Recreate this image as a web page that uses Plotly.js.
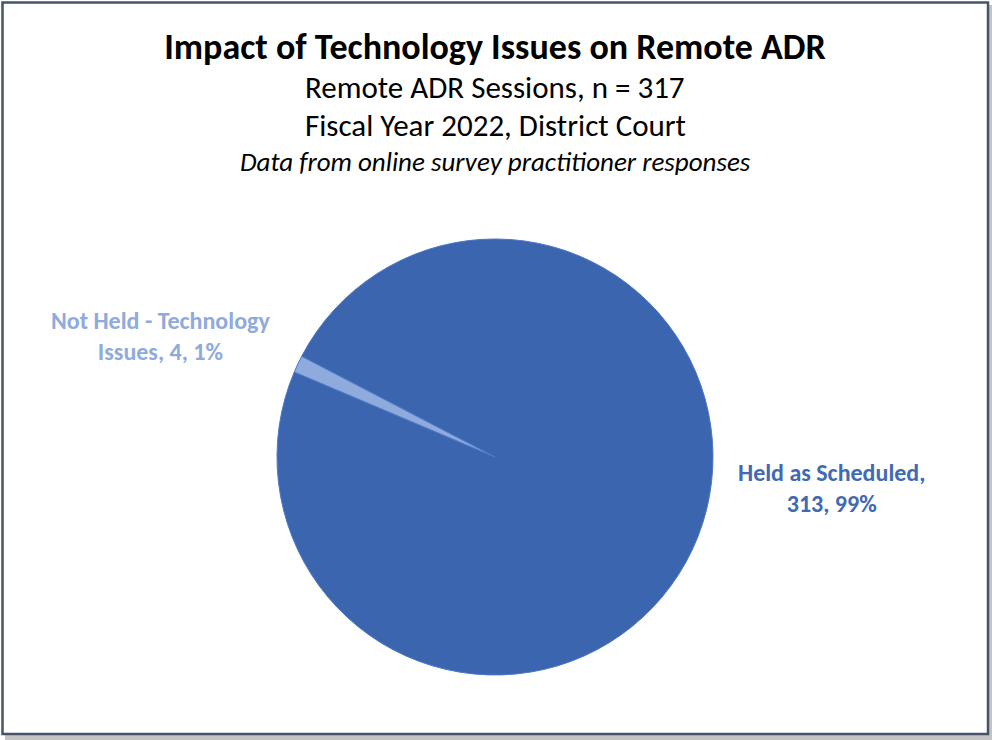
<!DOCTYPE html>
<html>
<head>
<meta charset="utf-8">
<script src="https://cdn.plot.ly/plotly-3.0.1.min.js"></script>
<style>html,body{margin:0;padding:0;background:#fff;}#chart{width:992px;height:740px;}</style>
</head>
<body>
<div id="chart"></div>
<script>
// ---- data ----
const categories = ["Held as Scheduled", "Not Held - Technology Issues"];
const sessions = [313, 4];
const sliceColors = ["#3C65AF", "#8FAADC"];
const titleText = "Impact of Technology Issues on Remote ADR";
const subtitleLines = ["Remote ADR Sessions, n = 317", "Fiscal Year 2022, District Court"];
const noteText = "Data from online survey practitioner responses";

const total = sessions.reduce((a, b) => a + b, 0);
const pct = sessions.map(v => Math.round(v / total * 100) + "%");

const FONT = "Carlito, Lato, 'Noto Sans', sans-serif";
const W = 992, H = 740;
const px = x => x / W;
const py = y => 1 - y / H;

const trace = {
  type: "pie",
  labels: categories,
  values: sessions,
  sort: false,
  direction: "clockwise",
  rotation: -62.5,
  marker: { colors: sliceColors, line: { color: "#4B78C8", width: 1 } },
  textinfo: "none",
  hoverinfo: "skip",
  showlegend: false,
  domain: { x: [px(495 - 218), px(495 + 218)], y: [py(457 + 218), py(457 - 218)] }
};

const annotations = [
  { text: subtitleLines[0], x: px(495), y: py(87), font: { size: 31, color: "#000" } },
  { text: subtitleLines[1], x: px(495), y: py(125), font: { size: 31, color: "#000" } },
  { text: "<i>" + noteText + "</i>", x: px(495), y: py(161), font: { size: 27, color: "#000" } },
  { text: "<b>" + categories[1].replace(" Issues", "<br>Issues") + ", " + sessions[1] + ", " + pct[1] + "</b>",
    x: px(160), y: py(336), font: { size: 24, color: sliceColors[1] } },
  { text: "<b>" + categories[0] + ",<br>" + sessions[0] + ", " + pct[0] + "</b>",
    x: px(831), y: py(488), font: { size: 24, color: "#4169B4" } }
].map(a => Object.assign({ xref: "paper", yref: "paper", showarrow: false, xanchor: "center", yanchor: "middle", align: "center" }, a));

const layout = {
  width: W, height: H,
  margin: { l: 0, r: 0, t: 0, b: 0 },
  paper_bgcolor: "#ffffff",
  font: { family: FONT },
  title: { text: "<b>" + titleText + "</b>", font: { size: 36, color: "#000", family: FONT },
           x: 0.499, xanchor: "center", y: py(46), yanchor: "middle", yref: "container" },
  annotations: annotations,
  shapes: [
    { type: "rect", xref: "paper", yref: "paper", x0: px(5), x1: px(992), y0: py(740), y1: py(5),
      fillcolor: "#c4c4c4", line: { width: 0 }, layer: "below" },
    { type: "rect", xref: "paper", yref: "paper", x0: px(2.5), x1: px(988), y0: py(734), y1: py(2.5),
      fillcolor: "#ffffff", line: { color: "#44546A", width: 2.5 }, layer: "below" }
  ]
};

Plotly.newPlot("chart", [trace], layout, { displayModeBar: false, staticPlot: true });
</script>
</body>
</html>
